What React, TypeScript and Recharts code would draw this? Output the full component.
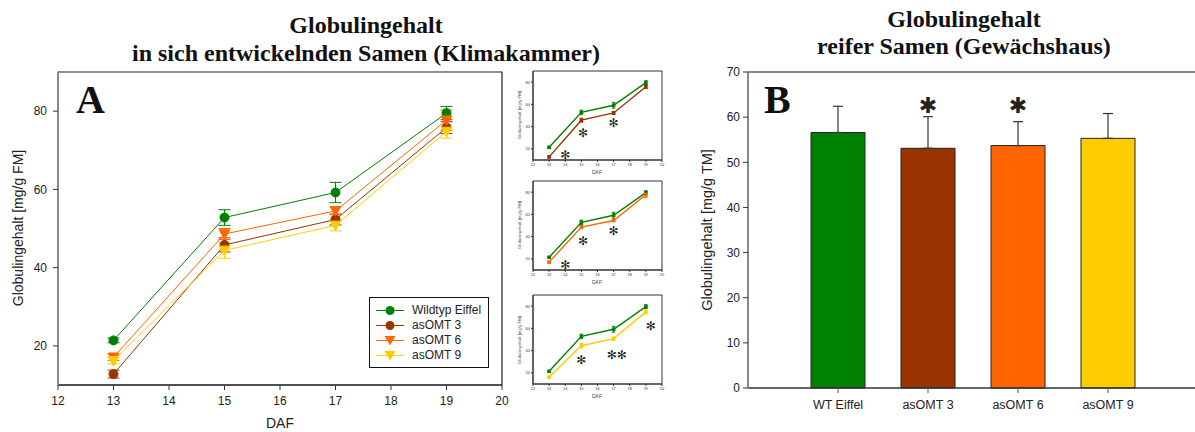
import React from 'react';
import {
  LineChart, Line, XAxis, YAxis, ErrorBar, ReferenceArea, ReferenceDot,
  ReferenceLine, Legend, BarChart, Bar, Cell,
} from 'recharts';

// ---------- Panel A data ----------
const dafDays = [13, 15, 17, 19];
const wildtypValues = [21.4, 52.8, 59.2, 79.5];
const wildtypErrors = [0.6, 2.0, 2.6, 1.7];
const omt3Values = [12.8, 45.8, 52.3, 75.8];
const omt3Errors = [1.0, 1.8, 1.4, 1.5];
const omt6Values = [17.1, 48.6, 54.5, 77.7];
const omt6Errors = [0.8, 1.4, 1.0, 2.6];
const omt9Values = [16.2, 44.4, 50.8, 74.8];
const omt9Errors = [0.8, 2.0, 1.4, 1.7];
const dafTicks = [12, 13, 14, 15, 16, 17, 18, 19, 20];
const globulinTicksA = [20, 40, 60, 80];

// inset asterisks (DAF position, value position, symbol)
const inset1StarX = [14, 15.1, 17];
const inset1StarY = [14.6, 34.3, 43.3];
const inset1StarText = ['✻', '✻', '✻'];
const inset2StarX = [14, 15.1, 17];
const inset2StarY = [14.9, 36.4, 45.3];
const inset2StarText = ['✻', '✻', '✻'];
const inset3StarX = [15, 17.2, 19.3];
const inset3StarY = [31.9, 36.4, 62];
const inset3StarText = ['✻', '✻✻', '✻'];

// ---------- Panel B data ----------
const barCategories = ['WT Eiffel', 'asOMT 3', 'asOMT 6', 'asOMT 9'];
const barValues = [56.6, 53.1, 53.7, 55.3];
const barErrors = [5.8, 7.0, 5.3, 5.5];
const globulinTicksB = [0, 10, 20, 30, 40, 50, 60, 70];
const barStarCategories = ['asOMT 3', 'asOMT 6'];
const barStarY = [62.5, 62.5];

// ---------- styles ----------
const GREEN = '#008000';
const BROWN = '#993300';
const ORANGE = '#FF6600';
const YELLOW = '#FFCC00';
const SANS = '"Liberation Sans", Arial, sans-serif';
const SERIF = '"Liberation Serif", "Times New Roman", serif';

const seriesA = [
  { key: 'wt', err: 'wtErr', name: 'Wildtyp Eiffel', color: GREEN, shape: 'circle' },
  { key: 'omt3', err: 'omt3Err', name: 'asOMT 3', color: BROWN, shape: 'circle' },
  { key: 'omt6', err: 'omt6Err', name: 'asOMT 6', color: ORANGE, shape: 'triangle' },
  { key: 'omt9', err: 'omt9Err', name: 'asOMT 9', color: YELLOW, shape: 'triangle' },
];

const lineTable = dafDays.map((d, i) => ({
  daf: d,
  wt: wildtypValues[i], wtErr: wildtypErrors[i],
  omt3: omt3Values[i], omt3Err: omt3Errors[i],
  omt6: omt6Values[i], omt6Err: omt6Errors[i],
  omt9: omt9Values[i], omt9Err: omt9Errors[i],
}));

const barTable = barCategories.map((c, i) => ({
  name: c, value: barValues[i], err: [0, barErrors[i]],
}));
const barColors = [GREEN, BROWN, ORANGE, YELLOW];

function markerDot(color: string, shape: string, size = 4.5) {
  return (props: any) => {
    const { cx, cy, index } = props;
    if (cx == null || cy == null) return <g key={index} />;
    if (shape === 'circle') {
      return <circle key={index} cx={cx} cy={cy} r={size} fill={color} stroke={color} />;
    }
    if (shape === 'square') {
      return <rect key={index} x={cx - size} y={cy - size} width={size * 2} height={size * 2} fill={color} />;
    }
    const s = size + 0.8;
    return (
      <polygon
        key={index}
        points={`${cx - s},${cy - s * 0.8} ${cx + s},${cy - s * 0.8} ${cx},${cy + s}`}
        fill={color}
        stroke={color}
      />
    );
  };
}

const LegendA = () => (
  <div
    style={{
      width: 120, height: 71, boxSizing: 'border-box', border: '1.5px solid #111',
      background: '#fff', paddingTop: 5, fontFamily: SANS, fontSize: 12, color: '#222',
    }}
  >
    {seriesA.map((s) => (
      <div key={s.key} style={{ display: 'flex', alignItems: 'center', height: 15 }}>
        <svg width={34} height={15} style={{ marginLeft: 4, flexShrink: 0 }}>
          <line x1={2} y1={7.5} x2={30} y2={7.5} stroke={s.color} strokeWidth={1} />
          {s.shape === 'circle' ? (
            <circle cx={16} cy={7.5} r={4.5} fill={s.color} />
          ) : (
            <polygon points="10.5,3 21.5,3 16,12.5" fill={s.color} />
          )}
        </svg>
        <span style={{ marginLeft: 4, lineHeight: '15px', whiteSpace: 'nowrap' }}>{s.name}</span>
      </div>
    ))}
  </div>
);

function starShape(text: string, size: number) {
  return (p: any) => (
    <text
      x={p.cx}
      y={p.cy}
      textAnchor="middle"
      dominantBaseline="central"
      fontSize={size}
      fill="#222"
      fontFamily='"DejaVu Sans", sans-serif'
    >
      {text}
    </text>
  );
}

type InsetProps = {
  top: number;
  secondKey: string;
  secondErr: string;
  secondColor: string;
  starX: number[];
  starY: number[];
  starText: string[];
};

const Inset = ({ top, secondKey, secondErr, secondColor, starX, starY, starText }: InsetProps) => (
  <div style={{ position: 'absolute', left: 505, top: top - 5 }}>
    <LineChart
      width={170}
      height={112}
      data={lineTable}
      margin={{ top: 5, right: 13, bottom: 8, left: 14 }}
    >
      <ReferenceArea x1={12} x2={20} y1={10} y2={90} fill="none" fillOpacity={0} stroke="#333" strokeWidth={1} />
      <XAxis
        dataKey="daf" type="number" domain={[12, 20]} ticks={dafTicks}
        tick={{ fontSize: 4, fill: '#333', fontFamily: SANS }} tickSize={2} tickMargin={1}
        axisLine={{ stroke: '#333' }} tickLine={{ stroke: '#333' }} height={10}
        allowDataOverflow
      />
      <YAxis
        type="number" domain={[10, 90]} ticks={globulinTicksA} width={14}
        tick={{ fontSize: 4, fill: '#333', fontFamily: SANS }} tickSize={2} tickMargin={1}
        axisLine={{ stroke: '#333' }} tickLine={{ stroke: '#333' }}
        allowDataOverflow
      />
      <Line
        dataKey="wt" stroke={GREEN} strokeWidth={1.4} isAnimationActive={false}
        dot={markerDot(GREEN, 'square', 1.8)}
      >
        <ErrorBar dataKey="wtErr" direction="y" width={1.8} stroke={GREEN} strokeWidth={1} />
      </Line>
      <Line
        dataKey={secondKey} stroke={secondColor} strokeWidth={1.4} isAnimationActive={false}
        dot={markerDot(secondColor, 'square', 1.8)}
      >
        <ErrorBar dataKey={secondErr} direction="y" width={1.8} stroke={secondColor} strokeWidth={1} />
      </Line>
      {starX.map((x, i) => (
        <ReferenceDot key={i} x={x} y={starY[i]} r={0} shape={starShape(starText[i], 12)} />
      ))}
    </LineChart>
  </div>
);

export default function App() {
  return (
    <div
      style={{
        position: 'absolute', left: 0, top: 0, width: 1195, height: 432,
        overflow: 'hidden', background: '#fff',
      }}
    >
      {/* Panel A main chart */}
      <div style={{ position: 'absolute', left: 0, top: 0 }}>
        <LineChart
          width={520}
          height={432}
          data={lineTable}
          margin={{ top: 72, right: 18, bottom: 17, left: 18 }}
        >
          <ReferenceArea x1={12} x2={20} y1={10} y2={90} fill="none" fillOpacity={0} stroke="#222" strokeWidth={1.2} />
          <XAxis
            dataKey="daf" type="number" domain={[12, 20]} ticks={dafTicks}
            tick={{ fontSize: 12, fill: '#222', fontFamily: SANS }} tickSize={5} tickMargin={6}
            axisLine={{ stroke: '#111', strokeWidth: 1.2 }} tickLine={{ stroke: '#333' }} height={30}
            allowDataOverflow
          />
          <YAxis
            type="number" domain={[10, 90]} ticks={globulinTicksA} width={40}
            tick={{ fontSize: 12, fill: '#222', fontFamily: SANS }} tickSize={5} tickMargin={6}
            axisLine={{ stroke: '#888', strokeWidth: 2 }} tickLine={{ stroke: '#333' }}
            allowDataOverflow
          />
          {seriesA.map((s) => (
            <Line
              key={s.key}
              dataKey={s.key}
              name={s.name}
              stroke={s.color}
              strokeWidth={1}
              isAnimationActive={false}
              dot={markerDot(s.color, s.shape)}
            >
              <ErrorBar dataKey={s.err} direction="y" width={6} stroke={s.color} strokeWidth={1} />
            </Line>
          ))}
          <Legend
            layout="vertical"
            align="center"
            verticalAlign="middle"
            content={() => <LegendA />}
            wrapperStyle={{ left: 369, top: 297, width: 120, height: 71 }}
          />
        </LineChart>
      </div>

      {/* Panel A insets */}
      <Inset top={71} secondKey="omt3" secondErr="omt3Err" secondColor={BROWN}
        starX={inset1StarX} starY={inset1StarY} starText={inset1StarText} />
      <Inset top={181} secondKey="omt6" secondErr="omt6Err" secondColor={ORANGE}
        starX={inset2StarX} starY={inset2StarY} starText={inset2StarText} />
      <Inset top={295} secondKey="omt9" secondErr="omt9Err" secondColor={YELLOW}
        starX={inset3StarX} starY={inset3StarY} starText={inset3StarText} />

      {/* Panel B */}
      <div style={{ position: 'absolute', left: 690, top: 0 }}>
        <BarChart
          width={520}
          height={432}
          data={barTable}
          margin={{ top: 72, right: 12, bottom: 14, left: 18 }}
        >
          <XAxis
            dataKey="name" padding={{ left: 45, right: 45 }}
            tick={{ fontSize: 12.5, fill: '#222', fontFamily: SANS }} tickSize={5} tickMargin={7}
            axisLine={{ stroke: '#333', strokeWidth: 1.5 }} tickLine={{ stroke: '#555' }} height={30}
          />
          <YAxis
            type="number" domain={[0, 70]} ticks={globulinTicksB} width={40}
            tick={{ fontSize: 12, fill: '#222', fontFamily: SANS }} tickSize={5} tickMargin={3}
            axisLine={{ stroke: '#888', strokeWidth: 2 }} tickLine={{ stroke: '#333' }}
          />
          <ReferenceLine y={70} stroke="#111" strokeWidth={1.2} />
          <Bar dataKey="value" barSize={54} stroke="#222" strokeWidth={1} isAnimationActive={false}>
            {barTable.map((d, i) => (
              <Cell key={d.name} fill={barColors[i]} />
            ))}
            <ErrorBar dataKey="err" direction="y" width={5} stroke="#333" strokeWidth={1.2} />
          </Bar>
          {barStarCategories.map((c, i) => (
            <ReferenceDot key={c} x={c} y={barStarY[i]} r={0} shape={starShape('✱', 22)} />
          ))}
        </BarChart>
      </div>

      {/* Titles and labels */}
      <svg
        width={1195}
        height={432}
        style={{ position: 'absolute', left: 0, top: 0, pointerEvents: 'none' }}
      >
        <g fontFamily={SERIF} fontWeight="bold" fontSize={24} fill="#111" textAnchor="middle">
          <text x={366} y={33}>Globulingehalt</text>
          <text x={366} y={61}>in sich entwickelnden Samen (Klimakammer)</text>
          <text x={964} y={27}>Globulingehalt</text>
          <text x={964} y={54}>reifer Samen (Gewächshaus)</text>
        </g>
        <g fontFamily={SERIF} fontWeight="bold" fontSize={40} fill="#111">
          <text x={76} y={113}>A</text>
          <text x={764} y={113}>B</text>
        </g>
        <g fontFamily={SANS} fontSize={14} fill="#222" textAnchor="middle">
          <text x={280} y={428}>DAF</text>
          <text transform="translate(23,228) rotate(-90)">Globulingehalt [mg/g FM]</text>
          <text transform="translate(712,230) rotate(-90)" fontSize={14.5}>Globulingehalt [mg/g TM]</text>
        </g>
        <g fontFamily={SANS} fontSize={4.3} fill="#444" textAnchor="middle">
          <text transform="translate(521,115) rotate(-90)">Globulingehalt [mg/g FM]</text>
          <text transform="translate(521,225) rotate(-90)">Globulingehalt [mg/g FM]</text>
          <text transform="translate(521,340) rotate(-90)">Globulingehalt [mg/g FM]</text>
          <text x={597} y={174} fontSize={5}>DAF</text>
          <text x={597} y={284} fontSize={5}>DAF</text>
          <text x={597} y={398} fontSize={5}>DAF</text>
        </g>
      </svg>
    </div>
  );
}
